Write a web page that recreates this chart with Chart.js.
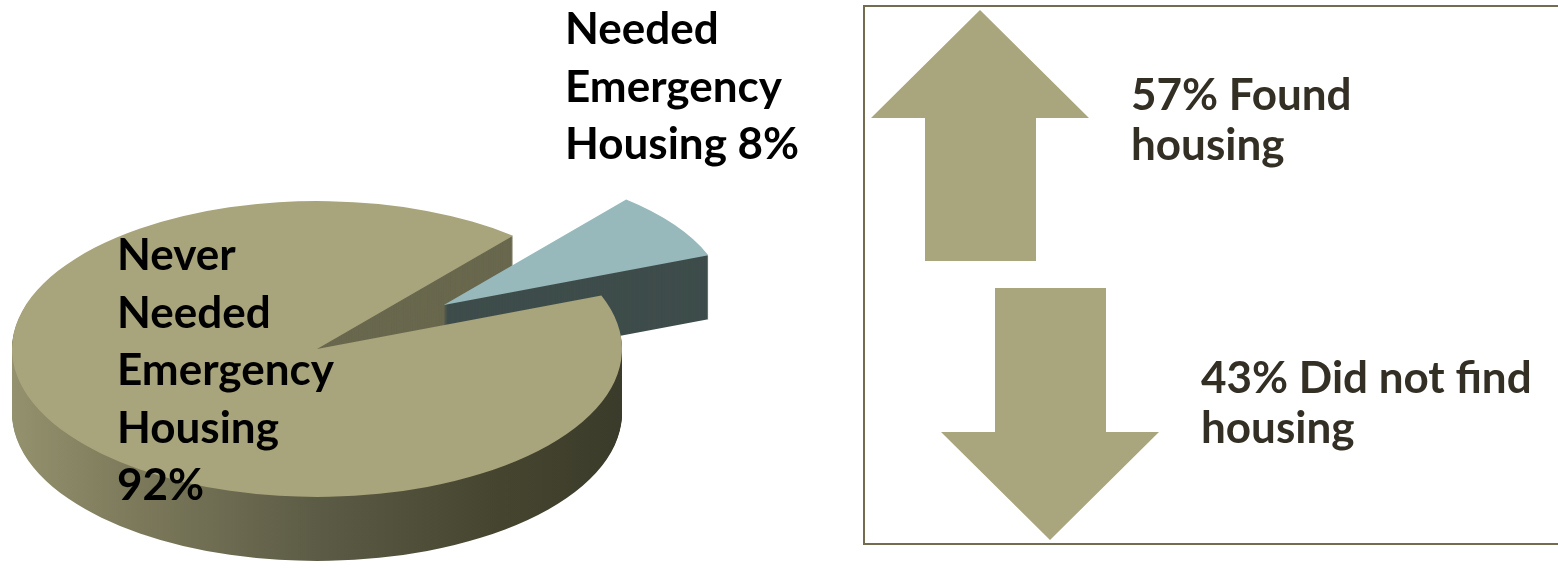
<!DOCTYPE html>
<html>
<head>
<meta charset="utf-8">
<script src="https://cdn.jsdelivr.net/npm/chart.js@4.4.0/dist/chart.umd.min.js"></script>
<style>
    html, body { margin: 0; padding: 0; background: #ffffff; }
    canvas { display: block; }
</style>
</head>
<body>
<canvas id="housingChart" width="1558" height="569"></canvas>
<script>
// =====================================
// DATA
// =====================================
const segmentNames = [
    ["Needed", "Emergency", "Housing"],
    ["Never", "Needed", "Emergency", "Housing"]
];
const segmentShares = [8, 92];

const outcomeNames = [
    ["Found", "housing"],
    ["Did not find", "housing"]
];
const outcomeShares = [57, 43];

// =====================================
// STYLE
// =====================================
const topColors = ["#98b9bb", "#a8a47b"];
const sliceSide = "#3e4d4b";
const wallSide = "#69684e";
const arrowColor = "#a9a57c";
const labelFont = "bold 44px Lato";

// =====================================
// 3D PIE PLUGIN (tilt + depth + exploded slice)
// =====================================
const pie3d = {
    id: "pie3d",
    beforeDatasetsDraw(chart, args, opts) {
        const ctx = chart.ctx;
        const arcs = chart.getDatasetMeta(0).data;
        const cx = arcs[0].x, cy = arcs[0].y;
        const k = opts.tilt;

        function drawArc(i, t, fill) {
            const arc = arcs[i];
            let vx = cx, vy = cy, s = 1;
            const e = opts.explode[i];
            if (e) {
                const m = (arc.startAngle + arc.endAngle) / 2;
                vx += Math.cos(m) * e;
                vy += Math.sin(m) * e * k;
                s = opts.shrink;
            }
            ctx.save();
            ctx.translate(vx, vy + t);
            ctx.scale(s, s * k);
            ctx.translate(-cx, -cy);
            if (fill) {
                const o = arc.options;
                arc.options = Object.assign({}, o, { backgroundColor: fill });
                arc.draw(ctx);
                arc.options = o;
            } else {
                arc.draw(ctx);
            }
            ctx.restore();
        }

        const W = chart.width, H = chart.height;
        const r = arcs[1].outerRadius;
        const grad = ctx.createLinearGradient(cx - r, 0, cx + r, 0);
        grad.addColorStop(0, "#94916e");
        grad.addColorStop(0.18, "#7f7c5d");
        grad.addColorStop(0.5, "#5c5b45");
        grad.addColorStop(0.8, "#45452f");
        grad.addColorStop(1, "#3b3b2b");

        // main slice side: back wall (above centre) and front rim
        ctx.save();
        ctx.beginPath(); ctx.rect(0, 0, W, cy); ctx.clip();
        for (let t = opts.depth; t >= 1; t--) drawArc(1, t, wallSide);
        ctx.restore();
        ctx.save();
        ctx.beginPath(); ctx.rect(0, cy, W, H - cy); ctx.clip();
        for (let t = opts.depth; t >= 1; t--) drawArc(1, t, grad);
        ctx.restore();

        // exploded slice side
        for (let t = opts.depth; t >= 1; t--) drawArc(0, t, sliceSide);

        // top faces
        drawArc(0, 0);
        drawArc(1, 0);
        return false;
    }
};

// =====================================
// LABELS + OUTCOME PANEL
// =====================================
const panel = {
    id: "panel",
    afterDraw(chart) {
        const ctx = chart.ctx;
        ctx.save();

        // pie labels
        ctx.font = labelFont;
        ctx.fillStyle = "#000000";
        ctx.textAlign = "left";
        ctx.textBaseline = "alphabetic";
        const small = segmentNames[0].slice();
        small[small.length - 1] += " " + segmentShares[0] + "%";
        small.forEach((line, i) => ctx.fillText(line, 565, 44 + i * 57.5));
        const big = segmentNames[1].concat([segmentShares[1] + "%"]);
        big.forEach((line, i) => ctx.fillText(line, 117, 270 + i * 57.5));

        // box
        ctx.strokeStyle = "#736c4f";
        ctx.lineWidth = 2;
        ctx.strokeRect(864, 6, 720, 538);

        // arrows
        ctx.fillStyle = arrowColor;
        ctx.beginPath();
        ctx.moveTo(980, 10); ctx.lineTo(1089, 118); ctx.lineTo(1036, 118);
        ctx.lineTo(1036, 261); ctx.lineTo(925, 261); ctx.lineTo(925, 118);
        ctx.lineTo(871, 118); ctx.closePath(); ctx.fill();

        ctx.beginPath();
        ctx.moveTo(995, 288); ctx.lineTo(1106, 288); ctx.lineTo(1106, 432);
        ctx.lineTo(1159, 432); ctx.lineTo(1050, 540); ctx.lineTo(941, 432);
        ctx.lineTo(995, 432); ctx.closePath(); ctx.fill();

        // outcome text
        ctx.fillStyle = "#332f25";
        ctx.font = labelFont;
        const up = outcomeShares[0] + "% " + outcomeNames[0][0];
        ctx.fillText(up, 1131, 110);
        ctx.fillText(outcomeNames[0][1], 1131, 160);
        const down = outcomeShares[1] + "% " + outcomeNames[1][0];
        ctx.fillText(down, 1201, 393);
        ctx.fillText(outcomeNames[1][1], 1201, 443);

        ctx.restore();
    }
};

new Chart(document.getElementById("housingChart"), {
    type: "pie",
    data: {
        labels: segmentNames.map(n => n.join(" ")),
        datasets: [{
            data: segmentShares,
            backgroundColor: topColors,
            borderWidth: 0,
            radius: 305,
            clip: false
        }]
    },
    options: {
        responsive: false,
        animation: false,
        events: [],
        rotation: 40,
        layout: { padding: { left: 0, right: 924, top: 129, bottom: 0 } },
        plugins: {
            legend: { display: false },
            tooltip: { enabled: false },
            pie3d: { tilt: 0.485, depth: 64, explode: [156, 0], shrink: 0.93 }
        }
    },
    plugins: [pie3d, panel]
});
</script>
</body>
</html>
